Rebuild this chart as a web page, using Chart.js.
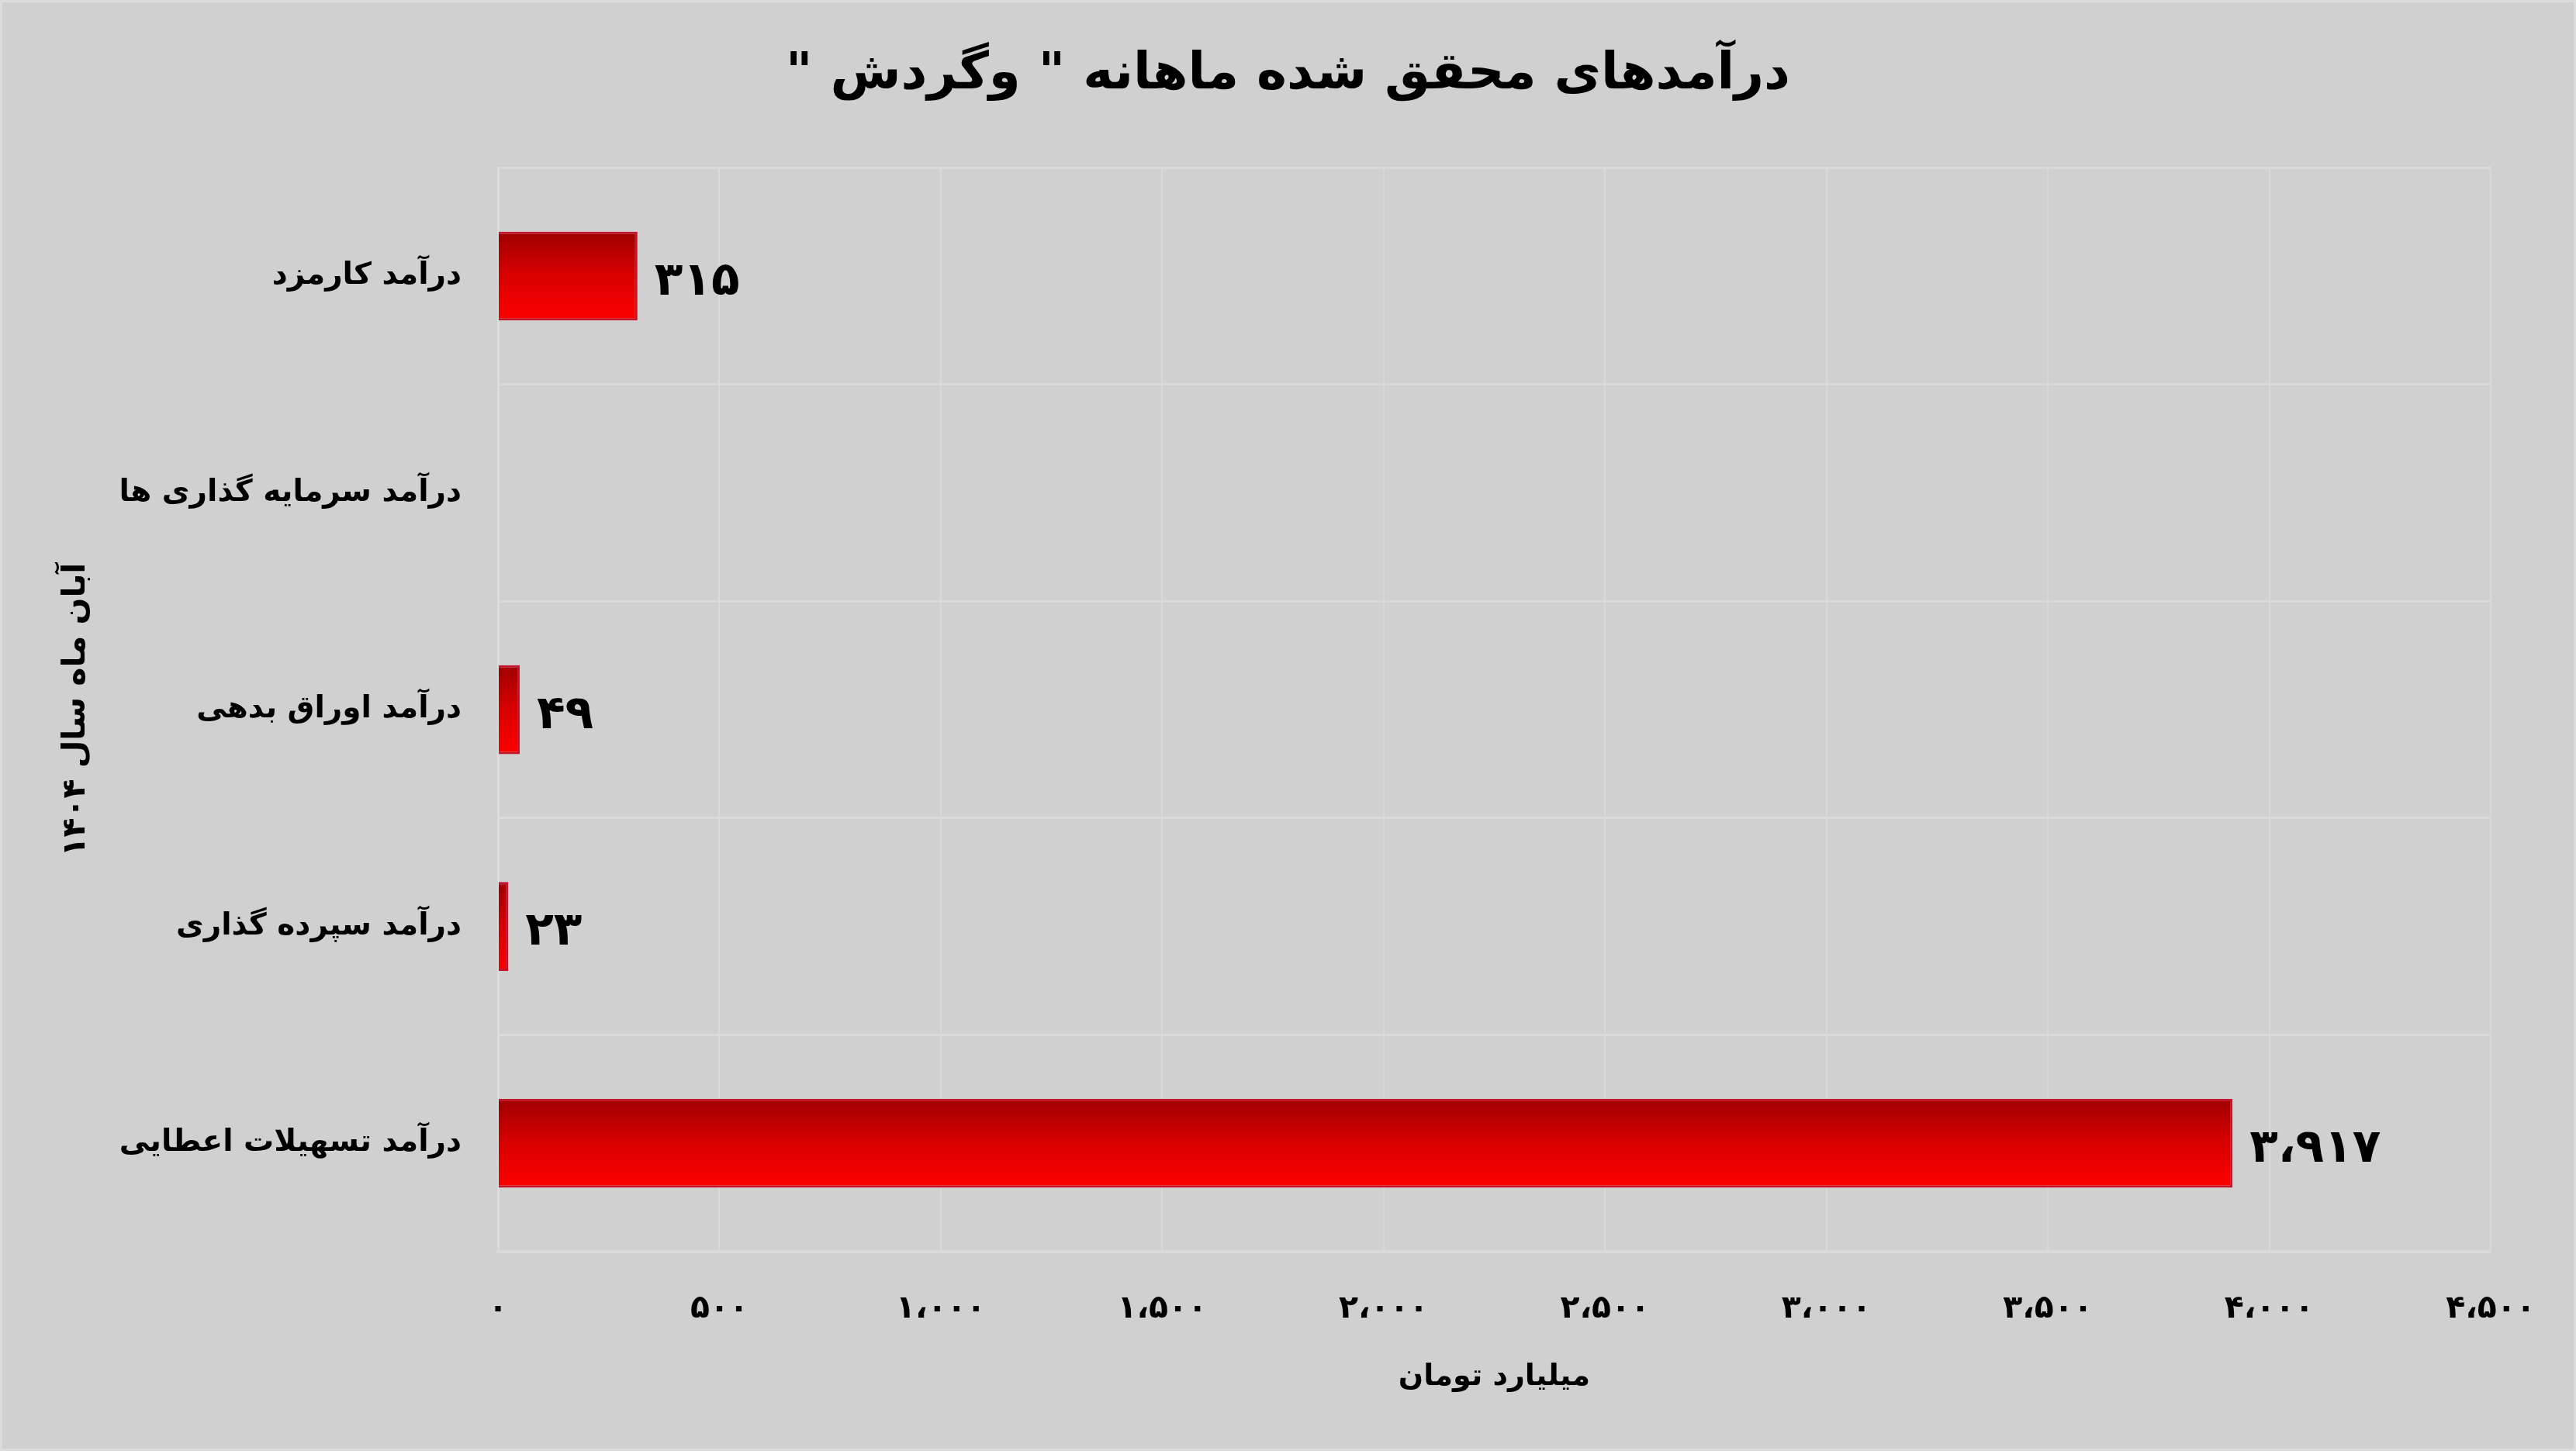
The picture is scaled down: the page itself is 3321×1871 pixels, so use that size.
<!DOCTYPE html>
<html lang="fa">
<head>
<meta charset="utf-8">
<script src="https://cdn.jsdelivr.net/npm/chart.js@4.4.1/dist/chart.umd.min.js"></script>
<style>
  html, body { margin: 0; padding: 0; background: #d0d0d0; }
  #wrap { width: 3321px; height: 1871px; }
</style>
</head>
<body>
<div id="wrap"><canvas id="myChart" dir="rtl" width="3321" height="1871"></canvas></div>
<script>
// داده ها (از بالا به پایین)
const categories = [
  "درآمد کارمزد",
  "درآمد سرمایه گذاری ها",
  "درآمد اوراق بدهی",
  "درآمد سپرده گذاری",
  "درآمد تسهیلات اعطایی"
];
const values = [315, null, 49, 23, 3917];
const xTickValues = [0, 500, 1000, 1500, 2000, 2500, 3000, 3500, 4000, 4500];

const chartTitle = 'درآمدهای محقق شده ماهانه " وگردش "';
const yTitle = "آبان ماه سال ۱۴۰۴";
const xTitle = "میلیارد تومان";

const FONT = '"DejaVu Sans"';
const BAR_PCT = 0.41;

// عدد به ارقام فارسی با جداکننده
function toFa(n) {
  const digits = "۰۱۲۳۴۵۶۷۸۹";
  const s = Math.round(n).toString().replace(/\B(?=(\d{3})+(?!\d))/g, "،");
  return s.replace(/\d/g, d => digits[d]);
}

function barGradient(context) {
  const chart = context.chart;
  const { ctx, chartArea, scales } = chart;
  if (!chartArea || context.dataIndex == null || !scales.y) return "#e00000";
  const yc = scales.y.getPixelForValue(context.dataIndex);
  const half = scales.y.height / categories.length * BAR_PCT / 2;
  const g = ctx.createLinearGradient(0, yc - half, 0, yc + half);
  g.addColorStop(0, "#a00000");
  g.addColorStop(0.5, "#d80000");
  g.addColorStop(1, "#ff0000");
  return g;
}

const background = {
  id: "background",
  beforeDraw(chart) {
    const ctx = chart.ctx;
    ctx.save();
    ctx.fillStyle = "#d0d0d0";
    ctx.fillRect(0, 0, chart.width, chart.height);
    ctx.strokeStyle = "#dcdcdc";
    ctx.lineWidth = 4;
    ctx.strokeRect(1, 1, chart.width - 2, chart.height - 2);
    ctx.restore();
  }
};

const valueLabels = {
  id: "valueLabels",
  afterDatasetsDraw(chart) {
    const ctx = chart.ctx;
    const meta = chart.getDatasetMeta(0);
    ctx.save();
    ctx.font = "bold 60px " + FONT;
    ctx.fillStyle = "#000";
    ctx.textAlign = "left";
    ctx.textBaseline = "middle";
    meta.data.forEach((bar, i) => {
      if (values[i] == null) return;
      ctx.fillText(toFa(values[i]), bar.x + 22, bar.y + 8);
    });
    ctx.restore();
  }
};

const ctx = document.getElementById("myChart").getContext("2d");
const chart = new Chart(ctx, {
  type: "bar",
  data: {
    labels: categories,
    datasets: [{
      data: values,
      backgroundColor: barGradient,
      borderColor: "#c4142c",
      borderWidth: 3,
      borderSkipped: "start",
      categoryPercentage: 1,
      barPercentage: BAR_PCT
    }]
  },
  options: {
    indexAxis: "y",
    responsive: false,
    animation: false,
    devicePixelRatio: 1,
    layout: { padding: 0 },
    plugins: {
      legend: { display: false },
      tooltip: { enabled: false },
      title: {
        display: true,
        text: chartTitle,
        color: "#000",
        font: { family: FONT, size: 66, weight: "bold" },
        padding: { top: 57, bottom: 80 }
      }
    },
    scales: {
      x: {
        min: 0,
        max: 4500,
        afterBuildTicks: scale => { scale.ticks = xTickValues.map(v => ({ value: v })); },
        afterFit: scale => { scale.height = 257; },
        ticks: {
          color: "#000",
          font: { family: FONT, size: 41, weight: "bold" },
          padding: 50,
          maxRotation: 0,
          callback: v => toFa(v)
        },
        grid: { color: "#d9d9d9", lineWidth: 2, drawTicks: false },
        border: { color: "#dadada", width: 4 },
        title: {
          display: true,
          text: xTitle,
          color: "#000",
          font: { family: FONT, size: 38, weight: "bold" },
          padding: { top: 0, bottom: 72 }
        }
      },
      y: {
        afterFit: scale => { scale.width = 642; },
        ticks: {
          color: "#000",
          font: { family: FONT, size: 39, weight: "bold" },
          padding: 47
        },
        grid: { color: "#dadada", lineWidth: 3, drawTicks: false },
        border: { color: "#dadada", width: 3 },
        title: {
          display: true,
          text: yTitle,
          color: "#000",
          font: { family: FONT, size: 41, weight: "bold" },
          padding: { top: 74, bottom: 0 }
        }
      },
      // فضای خالی سمت راست ناحیه نمودار
      yRight: {
        type: "linear",
        position: "right",
        display: true,
        afterFit: scale => { scale.width = 110; },
        ticks: { display: false },
        grid: { display: false, drawTicks: false },
        border: { display: false }
      }
    }
  },
  plugins: [background, valueLabels]
});
</script>
</body>
</html>
